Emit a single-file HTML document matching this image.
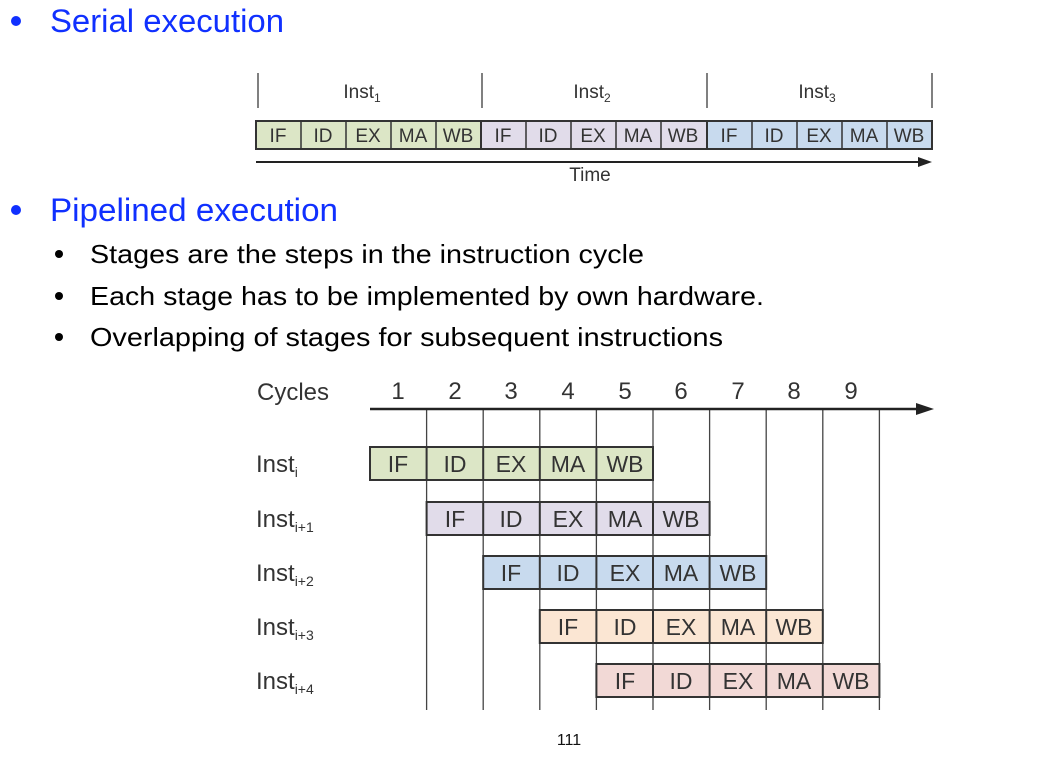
<!DOCTYPE html>
<html><head><meta charset="utf-8"><style>
html,body{margin:0;padding:0;background:#fff;}
svg{display:block;}
</style></head><body>
<svg width="1038" height="757" viewBox="0 0 1038 757" xmlns="http://www.w3.org/2000/svg" font-family="Liberation Sans, sans-serif">
<!-- headings -->
<circle cx="16" cy="21" r="5" fill="#1030ff"/>
<text x="50" y="32" font-size="32" fill="#1030ff" textLength="234" lengthAdjust="spacingAndGlyphs">Serial execution</text>
<circle cx="16" cy="210" r="5" fill="#1030ff"/>
<text x="50" y="221" font-size="32" fill="#1030ff" textLength="288" lengthAdjust="spacingAndGlyphs">Pipelined execution</text>
<circle cx="59" cy="254" r="4" fill="#000"/>
<text x="90" y="263" font-size="26" fill="#000" textLength="554" lengthAdjust="spacingAndGlyphs">Stages are the steps in the instruction cycle</text>
<circle cx="59" cy="296" r="4" fill="#000"/>
<text x="90" y="305" font-size="26" fill="#000" textLength="674" lengthAdjust="spacingAndGlyphs">Each stage has to be implemented by own hardware.</text>
<circle cx="59" cy="337" r="4" fill="#000"/>
<text x="90" y="346" font-size="26" fill="#000" textLength="633" lengthAdjust="spacingAndGlyphs">Overlapping of stages for subsequent instructions</text>

<!-- serial diagram -->
<g stroke="#555" stroke-width="1.5">
<line x1="258" y1="73" x2="258" y2="108"/>
<line x1="482" y1="73" x2="482" y2="108"/>
<line x1="707" y1="73" x2="707" y2="108"/>
<line x1="932" y1="73" x2="932" y2="108"/>
</g>
<g font-size="19" fill="#333" text-anchor="middle">
<text x="362" y="98">Inst<tspan font-size="12" dy="4">1</tspan></text>
<text x="592" y="98">Inst<tspan font-size="12" dy="4">2</tspan></text>
<text x="817" y="98">Inst<tspan font-size="12" dy="4">3</tspan></text>
</g>
<g id="serial" stroke="#333" stroke-width="2" font-size="19" text-anchor="middle">
<rect x="256" y="121" width="225" height="28" fill="#dce6c6"/>
<rect x="481" y="121" width="226" height="28" fill="#e1dcea"/>
<rect x="707" y="121" width="225" height="28" fill="#c8daee"/>
<g stroke-width="1.5">
<line x1="301" y1="121" x2="301" y2="149"/><line x1="346" y1="121" x2="346" y2="149"/><line x1="391" y1="121" x2="391" y2="149"/><line x1="436" y1="121" x2="436" y2="149"/>
<line x1="526" y1="121" x2="526" y2="149"/><line x1="571" y1="121" x2="571" y2="149"/><line x1="616" y1="121" x2="616" y2="149"/><line x1="661" y1="121" x2="661" y2="149"/>
<line x1="752" y1="121" x2="752" y2="149"/><line x1="797" y1="121" x2="797" y2="149"/><line x1="842" y1="121" x2="842" y2="149"/><line x1="887" y1="121" x2="887" y2="149"/>
</g>
<g stroke="none" fill="#333">
<text x="278" y="142">IF</text><text x="323" y="142">ID</text><text x="368" y="142">EX</text><text x="413" y="142">MA</text><text x="458" y="142">WB</text>
<text x="503" y="142">IF</text><text x="548" y="142">ID</text><text x="593" y="142">EX</text><text x="638" y="142">MA</text><text x="683" y="142">WB</text>
<text x="729" y="142">IF</text><text x="774" y="142">ID</text><text x="819" y="142">EX</text><text x="864" y="142">MA</text><text x="909" y="142">WB</text>
</g>
</g>
<line x1="256" y1="162" x2="920" y2="162" stroke="#222" stroke-width="2"/>
<polygon points="932,162 918,157 918,167" fill="#222"/>
<text x="590" y="181" font-size="19" fill="#333" text-anchor="middle">Time</text>

<!-- pipeline diagram -->
<g stroke="#444" stroke-width="1.3">
<line x1="426.6" y1="409" x2="426.6" y2="710"/>
<line x1="483.2" y1="409" x2="483.2" y2="710"/>
<line x1="539.8" y1="409" x2="539.8" y2="710"/>
<line x1="596.4" y1="409" x2="596.4" y2="710"/>
<line x1="653" y1="409" x2="653" y2="710"/>
<line x1="709.6" y1="409" x2="709.6" y2="710"/>
<line x1="766.2" y1="409" x2="766.2" y2="710"/>
<line x1="822.8" y1="409" x2="822.8" y2="710"/>
<line x1="879.4" y1="409" x2="879.4" y2="710"/>
</g>
<line x1="370" y1="409" x2="918" y2="409" stroke="#222" stroke-width="2.5"/>
<polygon points="934,409 916,403 916,415" fill="#222"/>
<g font-size="24" fill="#333" text-anchor="middle">
<text x="293" y="400">Cycles</text>
<text x="398" y="399">1</text><text x="455" y="399">2</text><text x="511" y="399">3</text><text x="568" y="399">4</text><text x="625" y="399">5</text><text x="681" y="399">6</text><text x="738" y="399">7</text><text x="794" y="399">8</text><text x="851" y="399">9</text>
</g>
<g font-size="24" fill="#333">
<text x="256" y="472">Inst<tspan font-size="14" dy="5">i</tspan></text>
<text x="256" y="527">Inst<tspan font-size="14" dy="5">i+1</tspan></text>
<text x="256" y="581">Inst<tspan font-size="14" dy="5">i+2</tspan></text>
<text x="256" y="635">Inst<tspan font-size="14" dy="5">i+3</tspan></text>
<text x="256" y="689">Inst<tspan font-size="14" dy="5">i+4</tspan></text>
</g>
<g stroke="#333" stroke-width="2">
<rect x="370" y="447" width="283" height="33" fill="#dce6c6"/>
<rect x="426.6" y="502" width="283" height="33" fill="#e1dcea"/>
<rect x="483.2" y="556" width="283" height="33" fill="#c8daee"/>
<rect x="539.8" y="610" width="283" height="33" fill="#fbe6d3"/>
<rect x="596.4" y="664" width="283" height="33" fill="#f2d9d6"/>
<line x1="426.6" y1="447" x2="426.6" y2="480"/><line x1="483.2" y1="447" x2="483.2" y2="480"/><line x1="539.8" y1="447" x2="539.8" y2="480"/><line x1="596.4" y1="447" x2="596.4" y2="480"/>
<line x1="483.2" y1="502" x2="483.2" y2="535"/><line x1="539.8" y1="502" x2="539.8" y2="535"/><line x1="596.4" y1="502" x2="596.4" y2="535"/><line x1="653" y1="502" x2="653" y2="535"/>
<line x1="539.8" y1="556" x2="539.8" y2="589"/><line x1="596.4" y1="556" x2="596.4" y2="589"/><line x1="653" y1="556" x2="653" y2="589"/><line x1="709.6" y1="556" x2="709.6" y2="589"/>
<line x1="596.4" y1="610" x2="596.4" y2="643"/><line x1="653" y1="610" x2="653" y2="643"/><line x1="709.6" y1="610" x2="709.6" y2="643"/><line x1="766.2" y1="610" x2="766.2" y2="643"/>
<line x1="653" y1="664" x2="653" y2="697"/><line x1="709.6" y1="664" x2="709.6" y2="697"/><line x1="766.2" y1="664" x2="766.2" y2="697"/><line x1="822.8" y1="664" x2="822.8" y2="697"/>
</g>
<g font-size="23" fill="#333" text-anchor="middle">
<text x="398" y="472">IF</text><text x="455" y="472">ID</text><text x="511" y="472">EX</text><text x="568" y="472">MA</text><text x="625" y="472">WB</text>
<text x="455" y="527">IF</text><text x="511" y="527">ID</text><text x="568" y="527">EX</text><text x="625" y="527">MA</text><text x="681" y="527">WB</text>
<text x="511" y="581">IF</text><text x="568" y="581">ID</text><text x="625" y="581">EX</text><text x="681" y="581">MA</text><text x="738" y="581">WB</text>
<text x="568" y="635">IF</text><text x="625" y="635">ID</text><text x="681" y="635">EX</text><text x="738" y="635">MA</text><text x="794" y="635">WB</text>
<text x="625" y="689">IF</text><text x="681" y="689">ID</text><text x="738" y="689">EX</text><text x="794" y="689">MA</text><text x="851" y="689">WB</text>
</g>
<text x="569" y="745" font-size="16" fill="#111" text-anchor="middle">111</text>
</svg>
</body></html>
